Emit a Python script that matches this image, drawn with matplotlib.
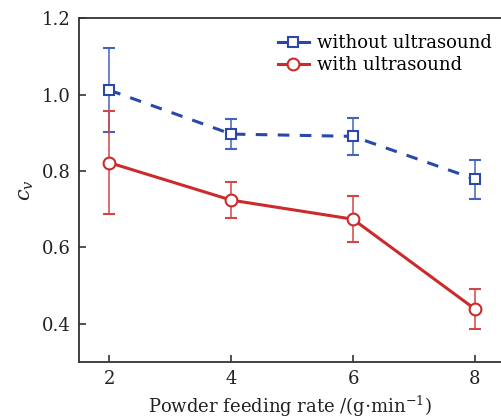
import numpy as np
import matplotlib
matplotlib.use('Agg')
import matplotlib.pyplot as plt
from matplotlib.lines import Line2D

# --- data ---
rate = [2, 4, 6, 8]
cv_without = [1.012, 0.897, 0.891, 0.779]
err_without = [0.110, 0.040, 0.049, 0.051]
cv_with = [0.822, 0.724, 0.674, 0.439]
err_with = [0.135, 0.048, 0.060, 0.053]

plt.rcParams['font.family'] = ['DejaVu Serif']
plt.rcParams['mathtext.fontset'] = 'dejavuserif'

blue = '#2a48a8'
red = '#cc2b2b'
dash = (0, (3.8, 3.4))

fig = plt.figure(figsize=(5.01, 4.19), dpi=100)
ax = fig.add_axes([79 / 501, 1 - 362 / 419, 422 / 501, (362 - 18.4) / 419])

ax.errorbar(rate, cv_without, yerr=err_without, color=blue, ls=dash, lw=2.2,
            marker='s', ms=7.5, mfc='white', mec=blue, mew=1.5,
            ecolor='#4563b8', elinewidth=1.1, capsize=4, capthick=1.1)
ax.errorbar(rate, cv_with, yerr=err_with, color=red, ls='-', lw=2.2,
            marker='o', ms=8.5, mfc='white', mec=red, mew=1.5,
            ecolor='#d44545', elinewidth=1.1, capsize=4, capthick=1.1)

handles = [
    Line2D([], [], color=blue, ls='-', lw=2.2, marker='s', ms=7.5,
           mfc='white', mec=blue, mew=1.5),
    Line2D([], [], color=red, ls='-', lw=2.2, marker='o', ms=8.5,
           mfc='white', mec=red, mew=1.5),
]
ax.legend(handles, ['without ultrasound', 'with ultrasound'], loc='upper right',
          frameon=False, fontsize=13, handlelength=1.7, handletextpad=0.45,
          labelspacing=0.2, borderaxespad=0.0, bbox_to_anchor=(0.995, 0.975))

ax.set_xlim(1.5, 8.43)
ax.set_ylim(0.3, 1.2)
ax.set_xticks([2, 4, 6, 8])
ax.set_yticks([0.4, 0.6, 0.8, 1.0, 1.2])
ax.set_yticklabels(['0.4', '0.6', '0.8', '1.0', '1.2'])

ax.spines['right'].set_visible(False)
for s in ['left', 'bottom', 'top']:
    ax.spines[s].set_color('#333333')
    ax.spines[s].set_linewidth(1.3)
ax.tick_params(direction='in', length=5, width=1.2, colors='#333333',
               labelcolor='#222222', labelsize=13, pad=6)

ax.set_xlabel('Powder feeding rate /(g$\\cdot$min$^{-1}$)', fontsize=13, color='#222222')
ax.set_ylabel('$c_v$', fontsize=15, color='#222222')

fig.savefig('out.png', dpi=100)
